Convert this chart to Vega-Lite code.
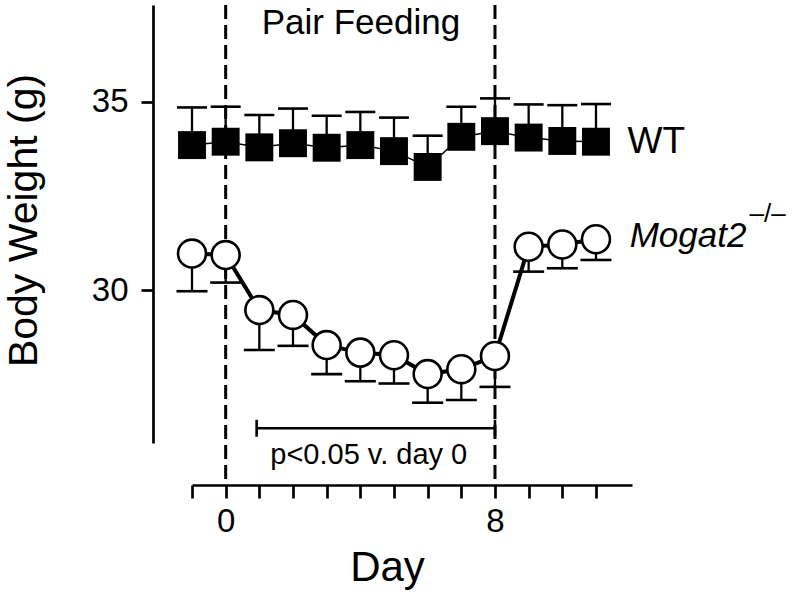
{
  "$schema": "https://vega.github.io/schema/vega-lite/v6.json",
  "width": 440,
  "height": 438,
  "autosize": "none",
  "padding": {"left": 192, "top": 5, "right": 166, "bottom": 151},
  "background": "white",
  "config": {"font": "Liberation Sans", "view": {"stroke": null}},
  "datasets": {
    "wt": [
      {"day": -1, "mean": 33.85, "upper": 34.85},
      {"day": 0, "mean": 33.94, "upper": 34.87},
      {"day": 1, "mean": 33.79, "upper": 34.65},
      {"day": 2, "mean": 33.90, "upper": 34.82},
      {"day": 3, "mean": 33.78, "upper": 34.63},
      {"day": 4, "mean": 33.85, "upper": 34.73},
      {"day": 5, "mean": 33.69, "upper": 34.58},
      {"day": 6, "mean": 33.27, "upper": 34.10},
      {"day": 7, "mean": 34.07, "upper": 34.87},
      {"day": 8, "mean": 34.22, "upper": 35.09},
      {"day": 9, "mean": 34.05, "upper": 34.93},
      {"day": 10, "mean": 33.96, "upper": 34.91},
      {"day": 11, "mean": 33.94, "upper": 34.94}
    ],
    "ko": [
      {"day": -1, "mean": 30.97, "lower": 29.97},
      {"day": 0, "mean": 30.93, "lower": 30.20},
      {"day": 1, "mean": 29.47, "lower": 28.41},
      {"day": 2, "mean": 29.34, "lower": 28.52},
      {"day": 3, "mean": 28.54, "lower": 27.77},
      {"day": 4, "mean": 28.34, "lower": 27.58},
      {"day": 5, "mean": 28.27, "lower": 27.52},
      {"day": 6, "mean": 27.77, "lower": 27.01},
      {"day": 7, "mean": 27.90, "lower": 27.08},
      {"day": 8, "mean": 28.25, "lower": 27.43},
      {"day": 9, "mean": 31.15, "lower": 30.49},
      {"day": 10, "mean": 31.21, "lower": 30.58},
      {"day": 11, "mean": 31.35, "lower": 30.80}
    ],
    "pf": [{"day": 0}, {"day": 8}],
    "sig": [{"start": 0.92, "end": 8}],
    "one": [{}]
  },
  "layer": [
    {
      "data": {"name": "pf"},
      "mark": {"type": "rule", "color": "black", "strokeWidth": 3, "strokeDash": [14, 6]},
      "encoding": {
        "x": {"field": "day", "type": "quantitative", "title": "Day",
          "scale": {"domain": [-1, 12.07], "nice": false, "zero": false},
          "axis": {
            "values": [-1, 0, 1, 2, 3, 4, 5, 6, 7, 8, 9, 10, 11],
            "tickCount": 30,
            "format": "d",
            "labelExpr": "datum.value == 0 || datum.value == 8 ? datum.label : ''",
            "labelOverlap": false,
            "grid": false, "offset": 42,
            "domainColor": "black", "domainWidth": 2.7,
            "tickColor": "black", "tickWidth": 2.7, "tickSize": 13,
            "labelFontSize": 33, "labelColor": "black", "labelPadding": 7, "labelFont": "Liberation Sans",
            "titleFontSize": 42, "titleFontWeight": "normal", "titleColor": "black", "titleFont": "Liberation Sans",
            "titleX": 195, "titleY": 95, "titleBaseline": "alphabetic", "titleAlign": "center"
          }},
        "y": {"datum": 37.57, "type": "quantitative", "title": "Body Weight (g)",
          "scale": {"domain": [25.94, 37.57], "nice": false, "zero": false},
          "axis": {
            "values": [30, 35],
            "grid": false, "offset": 39,
            "domainColor": "black", "domainWidth": 2.7,
            "tickColor": "black", "tickWidth": 2.7, "tickSize": 12,
            "labelFontSize": 33, "labelColor": "black", "labelPadding": 13, "labelFont": "Liberation Sans",
            "titleFontSize": 41, "titleFontWeight": "normal", "titleColor": "black", "titleFont": "Liberation Sans",
            "titleX": -117, "titleY": 215, "titleBaseline": "alphabetic", "titleAlign": "center", "titleAngle": -90
          }},
        "y2": {"datum": 24.85}
      }
    },
    {
      "data": {"name": "wt"},
      "mark": {"type": "rule", "color": "black", "strokeWidth": 2.3},
      "encoding": {
        "x": {"field": "day", "type": "quantitative", "title": "Day"},
        "y": {"field": "mean", "type": "quantitative", "title": "Body Weight (g)"},
        "y2": {"field": "upper"}
      }
    },
    {
      "data": {"name": "wt"},
      "mark": {"type": "tick", "orient": "horizontal", "color": "black", "size": 30, "thickness": 2.6, "opacity": 1},
      "encoding": {
        "x": {"field": "day", "type": "quantitative", "title": "Day"},
        "y": {"field": "upper", "type": "quantitative", "title": "Body Weight (g)"}
      }
    },
    {
      "data": {"name": "wt"},
      "mark": {"type": "line", "color": "black", "strokeWidth": 1.5},
      "encoding": {
        "x": {"field": "day", "type": "quantitative", "title": "Day"},
        "y": {"field": "mean", "type": "quantitative", "title": "Body Weight (g)"}
      }
    },
    {
      "data": {"name": "wt"},
      "mark": {"type": "point", "shape": "square", "filled": true, "color": "black", "size": 780, "opacity": 1},
      "encoding": {
        "x": {"field": "day", "type": "quantitative", "title": "Day"},
        "y": {"field": "mean", "type": "quantitative", "title": "Body Weight (g)"}
      }
    },
    {
      "data": {"name": "ko"},
      "mark": {"type": "rule", "color": "black", "strokeWidth": 2.3},
      "encoding": {
        "x": {"field": "day", "type": "quantitative", "title": "Day"},
        "y": {"field": "mean", "type": "quantitative", "title": "Body Weight (g)"},
        "y2": {"field": "lower"}
      }
    },
    {
      "data": {"name": "ko"},
      "mark": {"type": "tick", "orient": "horizontal", "color": "black", "size": 31, "thickness": 2.6, "opacity": 1},
      "encoding": {
        "x": {"field": "day", "type": "quantitative", "title": "Day"},
        "y": {"field": "lower", "type": "quantitative", "title": "Body Weight (g)"}
      }
    },
    {
      "data": {"name": "ko"},
      "mark": {"type": "line", "color": "black", "strokeWidth": 4},
      "encoding": {
        "x": {"field": "day", "type": "quantitative", "title": "Day"},
        "y": {"field": "mean", "type": "quantitative", "title": "Body Weight (g)"}
      }
    },
    {
      "data": {"name": "ko"},
      "mark": {"type": "point", "shape": "circle", "filled": false, "fill": "white", "stroke": "black", "strokeWidth": 2.6, "size": 780, "opacity": 1, "fillOpacity": 1},
      "encoding": {
        "x": {"field": "day", "type": "quantitative", "title": "Day"},
        "y": {"field": "mean", "type": "quantitative", "title": "Body Weight (g)"}
      }
    },
    {
      "data": {"name": "sig"},
      "mark": {"type": "rule", "color": "black", "strokeWidth": 2.6},
      "encoding": {
        "x": {"field": "start", "type": "quantitative", "title": "Day"},
        "x2": {"field": "end"},
        "y": {"datum": 26.33, "type": "quantitative", "title": "Body Weight (g)"}
      }
    },
    {
      "data": {"name": "sig"},
      "mark": {"type": "tick", "orient": "vertical", "color": "black", "size": 17, "thickness": 2.6, "opacity": 1},
      "encoding": {
        "x": {"field": "start", "type": "quantitative", "title": "Day"},
        "y": {"datum": 26.33, "type": "quantitative", "title": "Body Weight (g)"}
      }
    },
    {
      "data": {"name": "sig"},
      "mark": {"type": "tick", "orient": "vertical", "color": "black", "size": 17, "thickness": 2.6, "opacity": 1},
      "encoding": {
        "x": {"field": "end", "type": "quantitative", "title": "Day"},
        "y": {"datum": 26.33, "type": "quantitative", "title": "Body Weight (g)"}
      }
    },
    {
      "data": {"name": "one"},
      "mark": {"type": "text", "text": "Pair Feeding", "fontSize": 35, "align": "center", "baseline": "alphabetic", "color": "black", "font": "Liberation Sans"},
      "encoding": {
        "x": {"datum": 4.02, "type": "quantitative", "title": "Day"},
        "y": {"datum": 36.8, "type": "quantitative", "title": "Body Weight (g)"}
      }
    },
    {
      "data": {"name": "one"},
      "mark": {"type": "text", "text": "p<0.05 v. day 0", "fontSize": 29, "align": "center", "baseline": "alphabetic", "color": "black", "font": "Liberation Sans"},
      "encoding": {
        "x": {"datum": 4.25, "type": "quantitative", "title": "Day"},
        "y": {"datum": 25.38, "type": "quantitative", "title": "Body Weight (g)"}
      }
    },
    {
      "data": {"name": "one"},
      "mark": {"type": "text", "text": "WT", "fontSize": 37, "align": "left", "baseline": "alphabetic", "color": "black", "font": "Liberation Sans"},
      "encoding": {
        "x": {"datum": 11.94, "type": "quantitative", "title": "Day"},
        "y": {"datum": 33.65, "type": "quantitative", "title": "Body Weight (g)"}
      }
    },
    {
      "data": {"name": "one"},
      "mark": {"type": "text", "text": "Mogat2", "fontSize": 35, "fontStyle": "italic", "align": "left", "baseline": "alphabetic", "color": "black", "font": "Liberation Sans"},
      "encoding": {
        "x": {"datum": 12.0, "type": "quantitative", "title": "Day"},
        "y": {"datum": 31.14, "type": "quantitative", "title": "Body Weight (g)"}
      }
    },
    {
      "data": {"name": "one"},
      "mark": {"type": "text", "text": "–/–", "fontSize": 26, "align": "left", "baseline": "alphabetic", "color": "black", "font": "Liberation Sans"},
      "encoding": {
        "x": {"datum": 15.56, "type": "quantitative", "title": "Day"},
        "y": {"datum": 31.81, "type": "quantitative", "title": "Body Weight (g)"}
      }
    }
  ]
}
